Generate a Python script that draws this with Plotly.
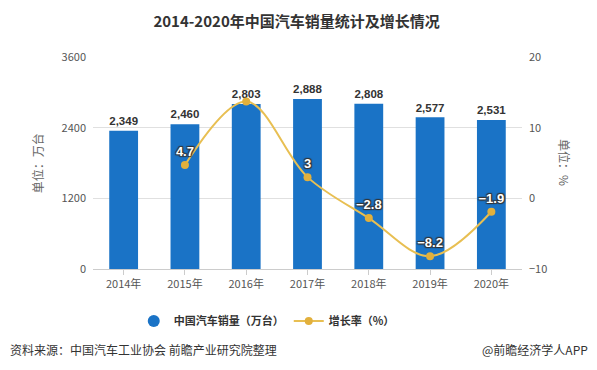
import plotly.graph_objects as go

years = ["2014年", "2015年", "2016年", "2017年", "2018年", "2019年", "2020年"]
sales = [2349, 2460, 2803, 2888, 2808, 2577, 2531]
growth_years = ["2015年", "2016年", "2017年", "2018年", "2019年", "2020年"]
growth = [4.7, 13.7, 3, -2.8, -8.2, -1.9]
growth_labels = ["4.7", "", "3", "−2.8", "−8.2", "−1.9"]
left_ticks = [0, 1200, 2400, 3600]
right_ticks = [-10, 0, 10, 20]

FONT = "Noto Sans CJK SC, Microsoft YaHei, sans-serif"
NUMFONT = "Liberation Sans, Arial, sans-serif"
BAR = "#1a73c6"
LINE = "#e8bf52"
DOT = "#e2b03c"

fig = go.Figure()
fig.add_trace(go.Bar(
    x=years, y=sales, name="中国汽车销量（万台）", showlegend=False,
    marker=dict(color=BAR, line=dict(width=0)),
    width=0.47,
    text=[f"{v:,}" for v in sales], textposition="outside",
    textfont=dict(family=NUMFONT, size=13, color="#333333", weight="bold"),
    cliponaxis=False,
))
fig.add_trace(go.Scatter(
    x=[None], y=[None], name="中国汽车销量（万台）", mode="markers",
    marker=dict(color=BAR, size=12, symbol="circle"),
))
fig.add_trace(go.Scatter(
    x=growth_years, y=growth, name="增长率（%）", yaxis="y2",
    mode="lines+markers+text",
    line=dict(color=LINE, width=2, shape="spline", smoothing=1.0),
    marker=dict(color=DOT, size=8),
    text=growth_labels, textposition="top center",
    textfont=dict(family=NUMFONT, size=13, color="white", weight="bold",
                  shadow="1px 1px 1px #333, -1px -1px 1px #333, 1px -1px 1px #333, -1px 1px 1px #333"),
    cliponaxis=False,
))

# The page body adds an 8px offset, so the figure is 8px smaller and shifted.
fig.update_layout(
    width=589, height=362,
    margin=dict(l=85, r=75, t=49, b=101, autoexpand=False),
    paper_bgcolor="white", plot_bgcolor="white",
    font=dict(family=FONT, size=11, color="#555555"),
    title=dict(text="<b>2014-2020年中国汽车销量统计及增长情况</b>",
               x=0.49, xanchor="center", y=0.962, yanchor="middle",
               font=dict(family=FONT, size=15, color="#333333")),
    xaxis=dict(type="category", showline=True, linecolor="#cccccc", linewidth=1,
               ticks="outside", ticklen=5, tickcolor="#cccccc",
               tickfont=dict(size=11, color="#555555"), showgrid=False),
    yaxis=dict(range=[0, 3600], tickvals=left_ticks, showgrid=True,
               gridcolor="#e0e0e0", gridwidth=1, zeroline=False,
               tickfont=dict(size=11, color="#555555"), ticklabelstandoff=6),
    yaxis2=dict(range=[-10, 20], tickvals=right_ticks, overlaying="y", side="right",
                showgrid=False, zeroline=False,
                tickfont=dict(size=11, color="#555555"), ticklabelstandoff=6),
    legend=dict(orientation="h", x=0.095, xanchor="left", y=-0.245, yanchor="middle",
                font=dict(size=11, color="#333333", weight="bold"), itemwidth=30),
    showlegend=True,
    annotations=[
        dict(text="单位：万台", xref="paper", yref="paper", x=-0.13, xanchor="center",
             y=0.5, textangle=-90, showarrow=False, font=dict(size=12, color="#666666")),
        dict(text="单位：%", xref="paper", yref="paper", x=1.10, xanchor="center",
             y=0.5, textangle=90, showarrow=False, font=dict(size=12, color="#666666")),
        dict(text="资料来源：中国汽车工业协会 前瞻产业研究院整理", xref="paper", yref="paper",
             x=-0.198, xanchor="left", y=-0.382, yanchor="middle", showarrow=False,
             font=dict(size=12, color="#333333")),
        dict(text="@前瞻经济学人APP", xref="paper", yref="paper",
             x=1.158, xanchor="right", y=-0.382, yanchor="middle", showarrow=False,
             font=dict(size=12, color="#333333")),
    ],
)

fig.write_html("out.html")
